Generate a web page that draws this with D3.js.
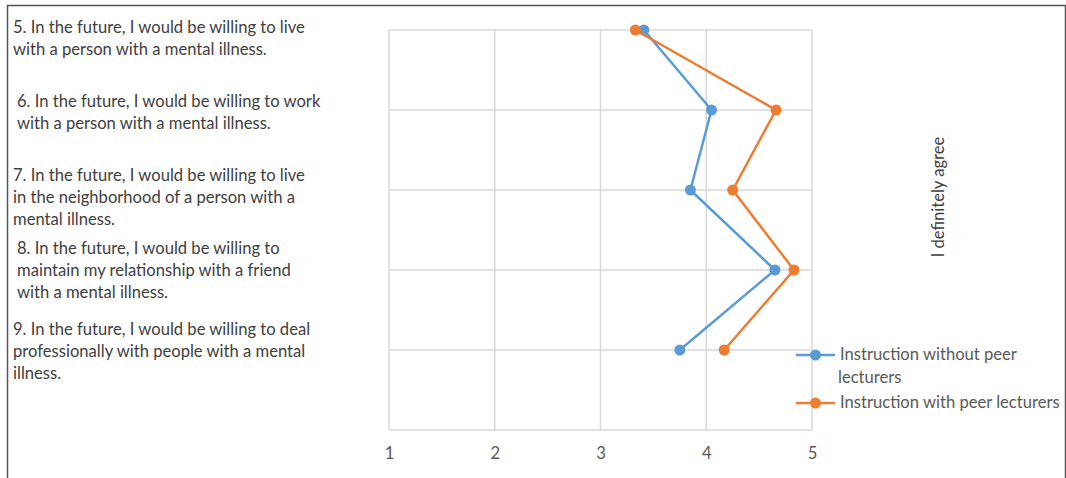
<!DOCTYPE html>
<html>
<head>
  <meta charset="utf-8">
  <style type="text/css">
    body { margin: 0; background-color: #fff; }
    svg { display: block; }
    text { font-family: Lato, "Open Sans", sans-serif; }
  </style>
  <script src="https://d3js.org/d3.v7.min.js"></script>
</head>
<body>
<script>
// statements 5..9, already broken into lines as in the figure
var items = ["5", "6", "7", "8", "9"];
var itemLines = [
  ["5. In the future, I would be willing to live", "with a person with a mental illness."],
  ["6. In the future, I would be willing to work", "with a person with a mental illness."],
  ["7. In the future, I would be willing to live", "in the neighborhood of a person with a", "mental illness."],
  ["8. In the future, I would be willing to", "maintain my relationship with a friend", "with a mental illness."],
  ["9. In the future, I would be willing to deal", "professionally with people with a mental", "illness."]
];
var withoutPeer = [3.41, 4.05, 3.85, 4.65, 3.75];
var withPeer = [3.33, 4.66, 4.25, 4.83, 4.17];
var seriesNames = ["Instruction without peer lecturers", "Instruction with peer lecturers"];
var xTicks = [1, 2, 3, 4, 5];

var W = 1066, H = 478;
var FS = "16.6px";
var svg = d3.select("body").append("svg").attr("width", W).attr("height", H);

// outer frame (bottom edge is cut off in the original)
svg.append("path")
  .attr("d", "M7.5," + (H + 2) + "V5.5H1065.5V" + (H + 2))
  .attr("fill", "none").attr("stroke", "#555").attr("stroke-width", 1.5);

var x = d3.scaleLinear().domain([1, 5]).range([389, 812]);
var y = d3.scaleLinear().domain([0, 5]).range([30, 430]);

var grid = svg.append("g").attr("stroke", "#d9d9d9").attr("stroke-width", 1.5);
grid.selectAll("line.v").data(xTicks).enter().append("line")
  .attr("x1", function(d) { return x(d); }).attr("x2", function(d) { return x(d); })
  .attr("y1", y(0)).attr("y2", y(5));
grid.selectAll("line.h").data(d3.range(0, 6)).enter().append("line")
  .attr("x1", x(1)).attr("x2", x(5))
  .attr("y1", function(d) { return y(d); }).attr("y2", function(d) { return y(d); });

// x axis labels
var xaxis = d3.axisBottom(x).tickValues(xTicks).tickSize(0).tickPadding(17).tickFormat(d3.format("d"));
var ax = svg.append("g").attr("transform", "translate(0," + y(5) + ")").call(xaxis);
ax.select(".domain").remove();
ax.selectAll("text").attr("fill", "#595959").style("font-size", FS).style("font-family", "Lato, sans-serif");

var colors = ["#5B9BD5", "#ED7D31"];
var series = [withoutPeer, withPeer];

var line = d3.line()
  .x(function(d) { return x(d); })
  .y(function(d, i) { return y(i); });

series.forEach(function(vals, s) {
  svg.append("path").datum(vals)
    .attr("d", line)
    .attr("fill", "none").attr("stroke", colors[s]).attr("stroke-width", 2.5)
    .attr("stroke-linejoin", "round");
  svg.selectAll("circle.s" + s).data(vals).enter().append("circle")
    .attr("class", "s" + s)
    .attr("cx", function(d) { return x(d); })
    .attr("cy", function(d, i) { return y(i); })
    .attr("r", 5.5)
    .attr("fill", colors[s]);
});

// statement texts on the left
var blockTop = [29, 103, 177, 250, 331];
var blockX = [13, 17, 13, 17, 13];
itemLines.forEach(function(lines, i) {
  var t = svg.append("text").attr("fill", "#404040").style("font-size", FS);
  lines.forEach(function(l, j) {
    t.append("tspan").attr("x", blockX[i]).attr("y", blockTop[i] + j * 22)
      .attr("dominant-baseline", "middle").text(l);
  });
});

// rotated axis note
svg.append("text")
  .attr("transform", "translate(940,197) rotate(-90)")
  .attr("text-anchor", "middle").attr("dominant-baseline", "middle")
  .attr("fill", "#404040").style("font-size", FS)
  .text("I definitely agree");

// legend
var legend = svg.append("g");
var legY = [355, 403];
var legText = [["Instruction without peer", "lecturers"], [seriesNames[1]]];
series.forEach(function(vals, s) {
  var g = legend.append("g").attr("transform", "translate(0," + legY[s] + ")");
  g.append("line").attr("x1", 796).attr("x2", 835).attr("stroke", colors[s]).attr("stroke-width", 2.5);
  g.append("circle").attr("cx", 815.5).attr("r", 5.5).attr("fill", colors[s]);
  var t = g.append("text").attr("fill", "#595959").style("font-size", FS);
  legText[s].forEach(function(l, j) {
    t.append("tspan").attr("x", j === 0 ? 840 : 838).attr("y", j * 23 + 1)
      .attr("dominant-baseline", "middle").text(l);
  });
});
</script>
</body>
</html>
